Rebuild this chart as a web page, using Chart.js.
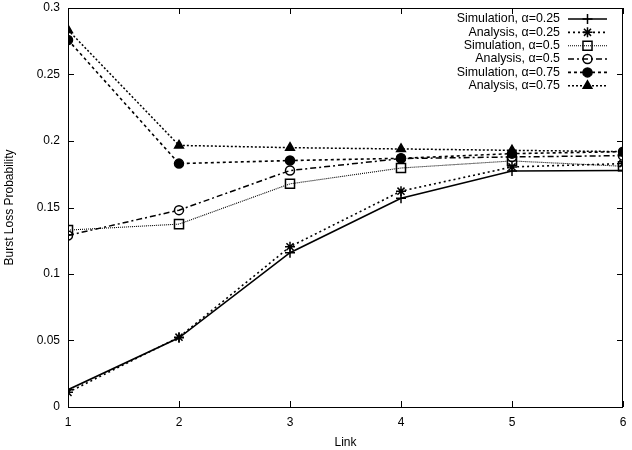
<!DOCTYPE html>
<html><head><meta charset="utf-8">
<script src="https://cdn.jsdelivr.net/npm/chart.js@4/dist/chart.umd.min.js"></script>
<style>html,body{margin:0;padding:0;background:#fff}#wrap{width:632px;height:450px}</style>
</head><body><div id="wrap"><canvas id="c" width="632" height="450"></canvas></div>
<script>
const links = [1, 2, 3, 4, 5, 6];
const simA025 = [0.013, 0.052, 0.116, 0.157, 0.1775, 0.1778];
const anaA025 = [0.011, 0.0525, 0.1205, 0.1623, 0.1805, 0.183];
const simA05  = [0.133, 0.1375, 0.1678, 0.1797, 0.185, 0.181];
const anaA05  = [0.129, 0.148, 0.1778, 0.1868, 0.188, 0.189];
const simA075 = [0.276, 0.183, 0.1853, 0.187, 0.1905, 0.192];
const anaA075 = [0.2835, 0.1967, 0.195, 0.194, 0.193, 0.192];
const seriesLabels = ['Simulation, \u03b1=0.25','Analysis, \u03b1=0.25','Simulation, \u03b1=0.5','Analysis, \u03b1=0.5','Simulation, \u03b1=0.75','Analysis, \u03b1=0.75'];
const yTicks = [0, 0.05, 0.1, 0.15, 0.2, 0.25, 0.3];
const xTicks = [1, 2, 3, 4, 5, 6];

const FONT = '"Liberation Sans", Arial, sans-serif';
const styles = [
  {dash: [], width: 1.6, r: 5, fill: false, ptStyle: 'cross'},
  {dash: [2, 3], width: 1.6, r: 5, fill: false, ptStyle: 'star'},
  {dash: [1, 1], width: 1.1, r: 6.4, fill: false, ptStyle: 'rect'},
  {dash: [6, 3, 2, 3], width: 1.5, r: 4.5, fill: false, ptStyle: 'circle'},
  {dash: [3, 3], width: 1.6, r: 4.5, fill: true, ptStyle: 'circle'},
  {dash: [2, 2], width: 1.5, r: 5, fill: true, ptStyle: 'triangle'}
];
const seriesData = [simA025, anaA025, simA05, anaA05, simA075, anaA075];

const datasets = seriesData.map((arr, i) => ({
  label: seriesLabels[i],
  data: arr.map((v, k) => ({x: links[k], y: v})),
  borderColor: '#000',
  borderWidth: styles[i].width,
  borderDash: styles[i].dash,
  pointStyle: styles[i].ptStyle,
  pointRadius: styles[i].r,
  pointBorderWidth: 1.5,
  pointBorderColor: '#000',
  pointBackgroundColor: styles[i].fill ? '#000' : 'rgba(0,0,0,0)',
  tension: 0,
  fill: false
}));

const frame = {
  id: 'frame',
  afterDraw(chart) {
    const ctx = chart.ctx, a = chart.chartArea;
    const xs = chart.scales.x, ys = chart.scales.y;
    ctx.save();
    ctx.strokeStyle = '#000';
    ctx.lineWidth = 1;
    ctx.setLineDash([]);
    ctx.strokeRect(a.left + 0.5, a.top + 0.5, a.right - a.left - 1, a.bottom - a.top);
    ctx.beginPath();
    xTicks.forEach(v => {
      const px = Math.round(xs.getPixelForValue(v)) + 0.5;
      ctx.moveTo(px, a.bottom); ctx.lineTo(px, a.bottom - 6);
      ctx.moveTo(px, a.top); ctx.lineTo(px, a.top + 6);
    });
    yTicks.forEach(v => {
      const py = Math.round(ys.getPixelForValue(v)) + 0.5;
      ctx.moveTo(a.left, py); ctx.lineTo(a.left + 6, py);
      ctx.moveTo(a.right, py); ctx.lineTo(a.right - 6, py);
    });
    ctx.stroke();
    // legend
    ctx.font = '12.4px ' + FONT;
    ctx.fillStyle = '#000';
    ctx.textAlign = 'right';
    ctx.textBaseline = 'middle';
    const textRight = a.right - 63;
    const sx0 = a.right - 55, sx1 = a.right - 16;
    datasets.forEach((ds, i) => {
      const y = a.top + 11 + i * 13.35;
      ctx.fillText(ds.label, textRight, y);
      ctx.beginPath();
      ctx.lineWidth = ds.borderWidth;
      ctx.setLineDash(ds.borderDash);
      ctx.moveTo(sx0, y); ctx.lineTo(sx1, y);
      ctx.stroke();
      ctx.setLineDash([]);
      ctx.lineWidth = ds.pointBorderWidth;
      ctx.fillStyle = ds.pointBackgroundColor;
      Chart.helpers.drawPoint(ctx, {pointStyle: ds.pointStyle, radius: ds.pointRadius, rotation: 0, borderWidth: ds.pointBorderWidth}, (sx0 + sx1) / 2, y);
      ctx.fillStyle = '#000';
    });
    ctx.restore();
  }
};

new Chart(document.getElementById('c'), {
  type: 'line',
  data: {datasets},
  options: {
    responsive: false,
    animation: false,
    devicePixelRatio: 1,
    layout: {padding: {top: 0, right: 9, left: 2, bottom: 0}},
    plugins: {legend: {display: false}, tooltip: {enabled: false}},
    scales: {
      x: {
        type: 'linear', min: 1, max: 6,
        afterBuildTicks: s => { s.ticks = xTicks.map(v => ({value: v})); },
        grid: {display: false, drawTicks: false},
        border: {display: false},
        ticks: {color: '#000', padding: 8, font: {family: FONT, size: 12}, callback: v => String(v)},
        title: {display: true, text: 'Link', color: '#000', font: {family: FONT, size: 12}, padding: {top: 2, bottom: 0}},
        afterFit: s => { s.height = 43; s.paddingRight = 9; }
      },
      y: {
        type: 'linear', min: 0, max: 0.3,
        afterBuildTicks: s => { s.ticks = yTicks.map(v => ({value: v})); },
        grid: {display: false, drawTicks: false},
        border: {display: false},
        ticks: {color: '#000', padding: 8, font: {family: FONT, size: 12}, callback: v => String(Number(v.toFixed(2)))},
        title: {display: true, text: 'Burst Loss Probability', color: '#000', font: {family: FONT, size: 12}, padding: {top: 0, bottom: 4}},
        afterFit: s => { s.width = 66; s.paddingTop = 8; s.paddingBottom = 7; }
      }
    }
  },
  plugins: [frame]
});
</script>
</body></html>
